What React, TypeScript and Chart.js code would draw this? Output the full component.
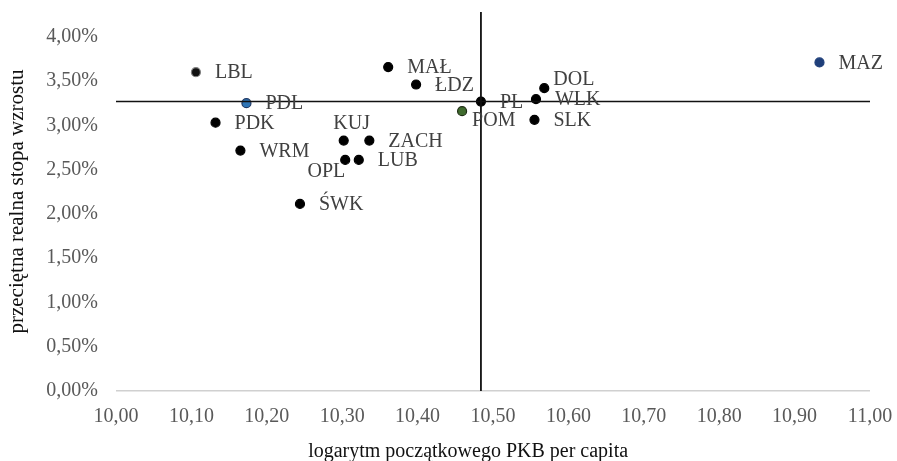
import React, { useEffect, useRef } from "react";
import { Chart, registerables } from "chart.js";

Chart.register(...registerables);

// Regions (voivodeships) and Poland
const regions = ["LBL", "PDL", "PDK", "WRM", "MAŁ", "ŁDZ", "KUJ", "ZACH", "OPL", "LUB", "ŚWK", "POM", "PL", "DOL", "WLK", "SLK", "MAZ"];
// logarithm of initial GDP per capita
const logGdp = [10.106, 10.173, 10.132, 10.165, 10.361, 10.398, 10.302, 10.336, 10.304, 10.322, 10.244, 10.459, 10.484, 10.568, 10.557, 10.555, 10.933];
// average real growth rate (%)
const growthRate = [3.6, 3.25, 3.03, 2.715, 3.658, 3.461, 2.828, 2.828, 2.61, 2.61, 2.113, 3.16, 3.269, 3.42, 3.296, 3.062, 3.71];
// label placement relative to point
const labelPlacement = ["right", "right", "right", "right", "right", "right", "above", "right", "belowLeft", "right", "right", "belowRight", "right", "aboveRight", "right", "right", "right"];

// Axis titles
const xTitle = "logarytm początkowego PKB per capita";
const yTitle = "przeciętna realna stopa wzrostu";

// Reference cross (Poland)
const crossX = 10.484;
const crossY = 3.269;

const xMin = 10.0;
const xMax = 11.0;
const xStep = 0.1;
const yMin = 0;
const yMax = 4.28;
const yStep = 0.5;
const yTickMax = 4.0;

const specialColors: Record<string, [string, string]> = {
  PDL: ["#2e75b6", "#1f3864"],
  POM: ["#3f6b2e", "#1e2d14"],
  MAZ: ["#1f3f7a", "#1f3f7a"],
  LBL: ["#111111", "#7f7f7f"],
};

const SERIF = "'Liberation Serif', 'DejaVu Serif', serif";

const offsets: Record<string, { dx: number; dy: number; align: CanvasTextAlign }> = {
  right: { dx: 19, dy: 1, align: "left" },
  above: { dx: 8, dy: -17, align: "center" },
  belowLeft: { dx: 0, dy: 12, align: "right" },
  belowRight: { dx: 10, dy: 10, align: "left" },
  aboveRight: { dx: 9, dy: -8, align: "left" },
};

const labelPlugin = {
  id: "pointLabels",
  afterDatasetsDraw(chart: any) {
    const meta = chart.getDatasetMeta(2);
    const ctx = chart.ctx;
    ctx.save();
    ctx.font = `20px ${SERIF}`;
    ctx.fillStyle = "#404040";
    ctx.textBaseline = "middle";
    meta.data.forEach((el: any, i: number) => {
      const o = offsets[labelPlacement[i]] || offsets.right;
      ctx.textAlign = o.align;
      ctx.fillText(regions[i], el.x + o.dx, el.y + o.dy);
    });
    ctx.restore();
  },
  afterDraw(chart: any) {
    const ctx = chart.ctx;
    const area = chart.chartArea;
    ctx.save();
    ctx.font = `20px ${SERIF}`;
    ctx.fillStyle = "#111111";
    ctx.textAlign = "center";
    ctx.textBaseline = "alphabetic";
    ctx.fillText(xTitle, area.left + (area.right - area.left) * 0.467, chart.height - 4);
    ctx.restore();
  },
};

const fmt = (v: number, d: number) => v.toFixed(d).replace(".", ",");

export default function App() {
  const ref = useRef<HTMLCanvasElement>(null);
  useEffect(() => {
    if (!ref.current) return;
    const points = regions.map((r, i) => ({ x: logGdp[i], y: growthRate[i] }));
    const fills = regions.map((r) => (specialColors[r] ? specialColors[r][0] : "#000000"));
    const borders = regions.map((r) => (specialColors[r] ? specialColors[r][1] : "#000000"));
    const chart = new Chart(ref.current, {
      type: "scatter",
      data: {
        datasets: [
          {
            type: "line",
            data: [{ x: xMin, y: crossY }, { x: xMax, y: crossY }],
            borderColor: "#111111",
            borderWidth: 1.6,
            pointRadius: 0,
            fill: false,
          } as any,
          {
            type: "line",
            data: [{ x: crossX, y: yMin }, { x: crossX, y: yMax }],
            borderColor: "#111111",
            borderWidth: 1.8,
            pointRadius: 0,
            fill: false,
          } as any,
          {
            data: points,
            pointRadius: 4.5,
            pointBorderWidth: 1.2,
            pointBackgroundColor: fills,
            pointBorderColor: borders,
          },
        ],
      },
      options: {
        animation: false,
        responsive: true,
        maintainAspectRatio: false,
        layout: { padding: { left: 0, right: 27, top: 12, bottom: 0 } },
        plugins: { legend: { display: false }, tooltip: { enabled: false } },
        scales: {
          x: {
            type: "linear",
            min: xMin,
            max: xMax,
            border: { display: false },
            grid: { display: false, drawTicks: false },
            ticks: {
              stepSize: xStep,
              padding: 14,
              color: "#595959",
              font: { family: SERIF, size: 20 },
              maxRotation: 0,
              autoSkip: false,
              callback: (v: any) => fmt(Number(v), 2),
            },
            title: { display: false },
            afterFit: (s: any) => {
              s.height = 70;
              s.paddingLeft = 0;
              s.paddingRight = 0;
            },
          },
          y: {
            type: "linear",
            min: yMin,
            max: yMax,
            border: { display: false },
            grid: {
              drawTicks: false,
              lineWidth: 1.5,
              color: (c: any) => (c.tick && c.tick.value === 0 ? "#d0d0d0" : "rgba(0,0,0,0)"),
            },
            ticks: {
              stepSize: yStep,
              padding: 18,
              color: "#595959",
              font: { family: SERIF, size: 20 },
              callback: (v: any) => fmt(Number(v), 2) + "%",
            },
            afterBuildTicks: (s: any) => {
              s.ticks = s.ticks.filter((t: any) => t.value <= yTickMax + 1e-6);
            },
            title: {
              display: true,
              text: yTitle,
              color: "#111111",
              font: { family: SERIF, size: 21 },
              padding: { top: 5, bottom: 0 },
            },
            afterFit: (s: any) => {
              s.width = 116;
              s.paddingTop = 0;
              s.paddingBottom = 0;
            },
          },
        },
      },
      plugins: [labelPlugin],
    });
    return () => chart.destroy();
  }, []);
  return (
    <div style={{ position: "fixed", left: 0, top: 0, width: 897, height: 461, background: "#fff" }}>
      <canvas ref={ref} />
    </div>
  );
}
